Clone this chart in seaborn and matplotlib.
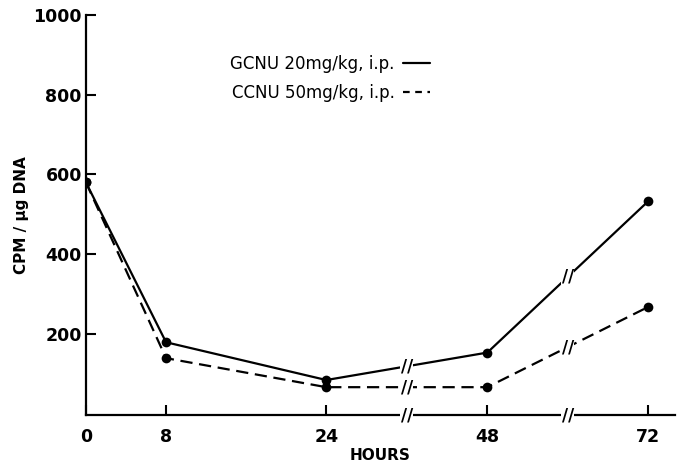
import numpy as np
import pandas as pd
import matplotlib
matplotlib.use('Agg')
import matplotlib.pyplot as plt
from matplotlib.lines import Line2D
import seaborn as sns

# values
hours = [0, 8, 24, 48, 72]
gcnu = [580, 178, 83, 152, 533]
ccnu = [580, 138, 65, 65, 267]
drug_labels = ['GCNU 20mg/kg, i.p.', 'CCNU 50mg/kg, i.p.']
x_ticks = [0, 8, 24, 48, 72]
y_ticks = [200, 400, 600, 800, 1000]
break_hours = [36, 60]

sns.set_style('ticks')
plt.rcParams['font.family'] = ['DejaVu Sans']
plt.rcParams['text.color'] = 'black'
plt.rcParams['axes.labelcolor'] = 'black'

df = pd.DataFrame({
    'hours': hours * 2,
    'cpm': gcnu + ccnu,
    'drug': [drug_labels[0]] * len(hours) + [drug_labels[1]] * len(hours),
})

# time axis is compressed after 24 h (broken axis)
SQUEEZE = 0.67


def fwd(x):
    x = np.asarray(x, dtype=float)
    return np.where(x <= 24, x, 24 + (x - 24) * SQUEEZE)


def inv(y):
    y = np.asarray(y, dtype=float)
    return np.where(y <= 24, y, 24 + (y - 24) / SQUEEZE)


fig = plt.figure(figsize=(6.82, 4.70), dpi=100)
ax = fig.add_axes([0.126, 0.117, 0.864, 0.851])
ax.set_xscale('function', functions=(fwd, inv))

sns.lineplot(data=df, x='hours', y='cpm', style='drug',
             dashes={drug_labels[0]: '', drug_labels[1]: (5.5, 3)},
             markers={drug_labels[0]: 'o', drug_labels[1]: 'o'},
             color='black', linewidth=1.6, markersize=7, markeredgewidth=0,
             legend=False, ax=ax)

ax.set_xlim(0, 76)
ax.set_ylim(-5, 1001)
ax.set_xticks(x_ticks)
ax.set_xticklabels([str(h) for h in x_ticks])
ax.set_yticks(y_ticks)
ax.xaxis.set_minor_locator(matplotlib.ticker.NullLocator())
ax.tick_params(axis='both', direction='in', length=7, width=1.5,
               labelsize=12.5, colors='black')
ax.tick_params(axis='x', pad=9)
ax.tick_params(axis='y', pad=3)
for lab in ax.get_xticklabels() + ax.get_yticklabels():
    lab.set_fontweight('bold')

sns.despine(ax=ax)
for s in ['left', 'bottom']:
    ax.spines[s].set_linewidth(1.6)
    ax.spines[s].set_color('black')

ax.set_xlabel('HOURS', fontsize=11, fontweight='bold', labelpad=2)
ax.set_ylabel('CPM / μg DNA', fontsize=11, fontweight='bold', labelpad=3)

# break marks on the axis and on both lines
for bh in break_hours:
    ys = [-5, np.interp(bh, hours, gcnu), np.interp(bh, hours, ccnu)]
    for by in ys:
        ax.text(bh, by, '//', ha='center', va='center', fontsize=12,
                fontweight='bold', clip_on=False, zorder=5,
                bbox=dict(fc='white', ec='none', pad=0.2))

handles = [Line2D([], [], color='black', lw=1.6),
           Line2D([], [], color='black', lw=1.6, dashes=(3, 2.5))]
ax.legend(handles, drug_labels, loc='upper left', bbox_to_anchor=(0.245, 0.90),
          frameon=False, markerfirst=False, fontsize=12, handlelength=1.6,
          handletextpad=0.5, labelspacing=0.65, borderpad=0, borderaxespad=0,
          labelcolor='black')

fig.savefig('out.png', dpi=100)
